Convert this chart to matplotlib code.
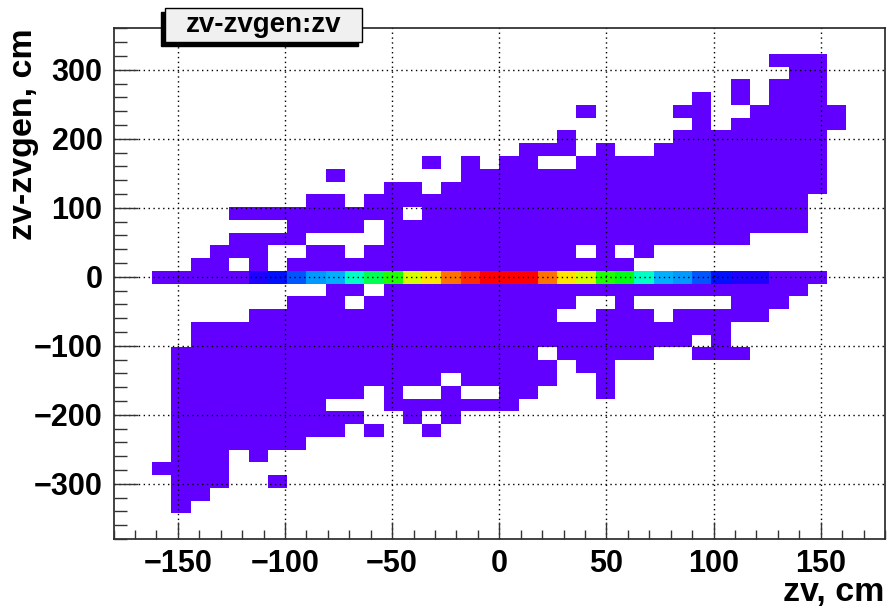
import numpy as np
import matplotlib
matplotlib.use("Agg")
import matplotlib.pyplot as plt
from matplotlib.colors import ListedColormap, Normalize, hsv_to_rgb
from matplotlib.patches import Rectangle
from matplotlib.ticker import MultipleLocator

# ---- histogram definition (40 x 40 bins) ----
x_range = (-180.0, 180.0)
y_range = (-380.0, 360.0)
n_xbins = 40
n_ybins = 40

# occupied off-diagonal cells above the zv-zvgen ~ 0 row: (y-bin, [x-bins])
upper_cells = [
    (37, [34, 35, 36]),
    (36, [35, 36]),
    (35, [32, 34, 35, 36]),
    (34, [30, 32, 34, 35, 36]),
    (33, [24, 29, 30, 33, 34, 35, 36, 37]),
    (32, [30, 32, 33, 34, 35, 36, 37]),
    (31, [23, *range(29, 37)]),
    (30, [21, 22, 23, 25, *range(28, 37)]),
    (29, [16, 18, 20, 21, *range(24, 37)]),
    (28, [11, *range(18, 37)]),
    (27, [14, 15, *range(17, 37)]),
    (26, [10, 11, *range(13, 36)]),
    (25, [*range(6, 15), *range(16, 36)]),
    (24, [9, 10, 11, 12, *range(14, 36)]),
    (23, [6, 7, 8, 9, *range(14, 33)]),
    (22, [5, 6, 7, 10, 11, *range(13, 24), 25, 27]),
    (21, [4, 5, 7, *range(9, 27)]),
]

# central row (y-bin 20): counts for x-bins 2..36
zero_row_first_bin = 2
zero_row_counts = [5, 5, 5, 5, 5, 35, 55, 85, 115, 125, 180, 230, 285, 365,
                   395, 445, 475, 495, 500, 495, 445, 395, 365, 285, 265,
                   185, 125, 115, 85, 55, 35, 35, 5, 5, 5]

# occupied off-diagonal cells below the central row
lower_cells = [
    (19, [11, 12, *range(14, 36)]),
    (18, [9, 10, 11, *range(13, 24), 26, 32, 33, 34]),
    (17, [*range(7, 23), 25, 26, 27, *range(29, 34)]),
    (16, [*range(4, 32)]),
    (15, [*range(4, 30), 31]),
    (14, [*range(3, 22), *range(23, 28), 30, 31, 32]),
    (13, [*range(3, 23), 24, 25]),
    (12, [*range(3, 17), *range(18, 23), 25]),
    (11, [*range(3, 13), 14, 17, 20, 21, 25]),
    (10, [*range(3, 11), *range(14, 21)]),
    (9, [*range(3, 13), 15, 17]),
    (8, [*range(3, 12), 13, 16]),
    (7, [*range(3, 10)]),
    (6, [3, 4, 5, 7]),
    (5, [2, 3, 4, 5]),
    (4, [3, 4, 5, 8]),
    (3, [3, 4]),
    (2, [3]),
]
off_diag_count = 1
z_max = 500

# ---- build histogram ----
H = np.zeros((n_ybins, n_xbins))
for row, cols in upper_cells + lower_cells:
    for c in cols:
        H[row, c] = off_diag_count
for k, v in enumerate(zero_row_counts):
    H[20, zero_row_first_bin + k] = v
Hm = np.ma.masked_equal(H, 0)

xe = np.linspace(*x_range, n_xbins + 1)
ye = np.linspace(*y_range, n_ybins + 1)

# ROOT "pretty" rainbow palette (violet -> red), 50 levels
n_col = 50
hues = np.linspace(263.0, 0.0, n_col) / 360.0
palette = hsv_to_rgb(np.stack([hues, np.ones(n_col), np.ones(n_col)], axis=1))
cmap = ListedColormap(palette)

W, Hpx = 889, 614
fig = plt.figure(figsize=(W / 100, Hpx / 100), dpi=100)
ax = fig.add_axes([113.5 / W, 1 - 539 / Hpx, (885 - 113.5) / W, (539 - 28.3) / Hpx])

ax.pcolormesh(xe, ye, Hm, cmap=cmap, norm=Normalize(0, z_max),
              shading="flat", antialiased=False, edgecolors="none", zorder=1)

ax.set_xlim(*x_range)
ax.set_ylim(*y_range)

font = "Liberation Sans"
ax.xaxis.set_major_locator(MultipleLocator(50))
ax.xaxis.set_minor_locator(MultipleLocator(10))
ax.yaxis.set_major_locator(MultipleLocator(100))
ax.yaxis.set_minor_locator(MultipleLocator(20))
ax.tick_params(axis="both", which="both", direction="in", top=False, right=False,
               color="#333333", width=1.0)
ax.tick_params(axis="x", which="major", length=12, pad=7)
ax.tick_params(axis="x", which="minor", length=6.5)
ax.tick_params(axis="y", which="major", length=17, pad=8)
ax.tick_params(axis="y", which="minor", length=9)

def fmt(v):
    v = int(round(v))
    return ("\u2212%d" % -v) if v < 0 else "%d" % v

xticks = np.arange(-150, 151, 50)
yticks = np.arange(-300, 301, 100)
ax.set_xticks(xticks)
ax.set_xticklabels([fmt(v) for v in xticks])
ax.set_yticks(yticks)
ax.set_yticklabels([fmt(v) for v in yticks])
for lab in ax.get_xticklabels() + ax.get_yticklabels():
    lab.set_fontfamily(font)
    lab.set_fontweight("bold")
    lab.set_fontsize(22)

ax.grid(True, which="major", color="black", linestyle=(0, (1, 2.5)), linewidth=1.0)
ax.set_axisbelow(False)

for s in ax.spines.values():
    s.set_linewidth(1.2)
    s.set_color("#222222")

# axis titles (ROOT style: aligned to the axis ends)
fig.text(884 / W, 1 - 601 / Hpx, "zv, cm", ha="right", va="baseline",
         fontfamily=font, fontweight="bold", fontsize=24.5)
fig.text(24 / W, 1 - 28.3 / Hpx, "zv-zvgen, cm", ha="center", va="top",
         rotation=90, fontfamily=font, fontweight="bold", fontsize=24.5)

# title box with shadow
bx0, bx1, by0, by1 = 165, 362, 8, 42
shadow = Rectangle(((bx0 - 4) / W, 1 - (by1 + 4) / Hpx), (bx1 - bx0) / W,
                   (by1 - by0) / Hpx, transform=fig.transFigure,
                   facecolor="black", edgecolor="black", zorder=5)
box = Rectangle((bx0 / W, 1 - by1 / Hpx), (bx1 - bx0) / W, (by1 - by0) / Hpx,
                transform=fig.transFigure, facecolor="#f0f0f0",
                edgecolor="black", linewidth=1.0, zorder=6)
fig.patches.extend([shadow, box])
fig.text((bx0 + bx1) / 2 / W, 1 - (by0 + by1) / 2 / Hpx, "zv-zvgen:zv",
         ha="center", va="center", fontfamily=font, fontweight="bold",
         fontsize=20, zorder=7)

fig.savefig("out.png", dpi=100)
